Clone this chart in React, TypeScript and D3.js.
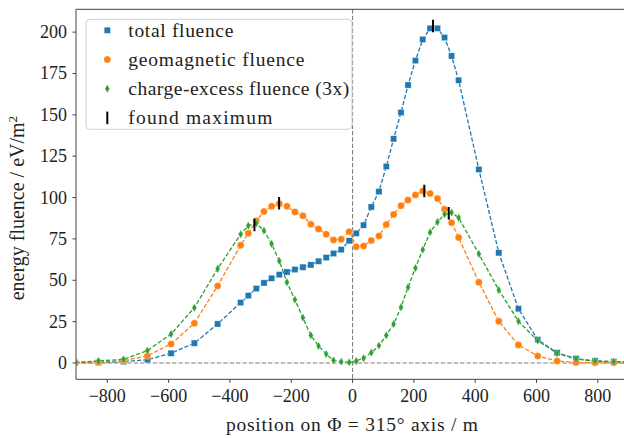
import React from "react";
import * as d3 from "d3";

// positions along the axis (m)
const positions = [
  -905, -829, -747, -669, -592, -516, -440,
  -365, -340, -314, -289, -264, -239, -214, -188, -162, -136, -111, -86, -62, -37, -11,
  12, 36, 61, 86, 110, 134, 158, 181, 205, 229, 253, 277, 300, 323, 346,
  412, 477, 541, 604, 667, 729, 791, 852, 913,
];

const totalFluence = [
  0.2, 0.3, 0.8, 2.0, 5.9, 12.0, 23.6,
  36.5, 40.7, 45.0, 48.4, 51.2, 53.4, 55.0, 56.5, 57.9, 59.3, 61.5, 63.7, 66.2, 68.5, 73.9,
  78.4, 83.3, 94.3, 103.6, 118.8, 135.5, 151.4, 168.0, 182.8, 195.6, 202.3, 202.3, 196.7, 185.6, 170.9,
  117.0, 66.6, 32.8, 14.1, 6.2, 2.6, 1.2, 0.8, 0.4,
];

const geomagneticFluence = [
  0.1, 0.4, 1.4, 4.3, 11.5, 24.0, 46.6,
  71.2, 78.4, 86.0, 91.5, 94.7, 96.3, 94.7, 91.3, 89.0, 83.8, 81.0, 77.8, 74.4, 74.8, 79.4,
  70.3, 70.7, 74.0, 76.8, 83.7, 89.8, 95.1, 98.5, 101.6, 104.0, 102.4, 99.4, 92.9, 84.8, 75.8,
  48.8, 25.2, 10.9, 4.2, 1.2, 0.3, 0.2, 0.1, 0.05,
];

const chargeExcessFluence = [
  0.5, 1.2, 2.2, 7.5, 17.5, 33.4, 57.0,
  77.8, 83.0, 84.4, 80.0, 72.0, 61.7, 48.8, 38.3, 27.4, 16.7, 10.3, 5.4, 1.6, 0.8, 0.4,
  1.2, 2.9, 6.2, 10.5, 16.7, 23.6, 33.7, 45.8, 57.4, 68.5, 79.0, 85.2, 89.9, 90.9, 87.8,
  65.9, 44.1, 25.2, 13.5, 5.9, 2.4, 1.2, 0.8, 0.5,
];

const maximaX = [262.5, -239.5, 234, -320, 313.7];
const maximaY = [203.7, 96.6, 104, 83.4, 90.5];

const xTicks = [-800, -600, -400, -200, 0, 200, 400, 600, 800];
const yTicks = [0, 25, 50, 75, 100, 125, 150, 175, 200];

const legendLabels = [
  "total fluence",
  "geomagnetic fluence",
  "charge-excess fluence (3x)",
  "found maximum",
];
const legendWidths = [105, 176, 221, 144];

const BLUE = "#1f77b4";
const ORANGE = "#ff7f0e";
const GREEN = "#2ca02c";
const FONT = "'Liberation Serif', 'Times New Roman', serif";

const W = 624;
const H = 438;
const left = 76;
const top = 9.3;
const bottom = 379.3;

const x = d3.scaleLinear().domain([-902, 902]).range([left, left + 1804 * 0.3066]);
const y = d3.scaleLinear().domain([-9.86, 213.8]).range([bottom, top]);

type Kind = "square" | "circle" | "diamond" | "vline";

function Marker({ kind, cx, cy, color }: { kind: Kind; cx: number; cy: number; color: string }) {
  const st = { stroke: "rgba(255,255,255,0.55)", strokeWidth: 0.6 };
  if (kind === "square") {
    const s = 6.2;
    return <rect x={cx - s / 2} y={cy - s / 2} width={s} height={s} fill={color} {...st} />;
  }
  if (kind === "circle") {
    return <circle cx={cx} cy={cy} r={3.5} fill={color} {...st} />;
  }
  if (kind === "diamond") {
    const w = 2.4, h = 4.2;
    return (
      <path
        d={`M${cx},${cy - h}L${cx + w},${cy}L${cx},${cy + h}L${cx - w},${cy}Z`}
        fill={color}
        {...st}
      />
    );
  }
  return <line x1={cx} x2={cx} y1={cy - 6.3} y2={cy + 6.3} stroke="#000" strokeWidth={2} />;
}

export default function App() {
  const series = [
    { values: totalFluence, color: BLUE, kind: "square" as Kind },
    { values: geomagneticFluence, color: ORANGE, kind: "circle" as Kind },
    { values: chargeExcessFluence, color: GREEN, kind: "diamond" as Kind },
  ];
  const line = d3
    .line<number>()
    .x((_, i) => x(positions[i]))
    .y((v) => y(v));

  const right = W + 5;
  const legendKinds: Kind[] = ["square", "circle", "diamond", "vline"];
  const legendColors = [BLUE, ORANGE, GREEN, "#000"];

  return (
    <svg
      width={W}
      height={H}
      style={{ position: "absolute", left: 0, top: 0, background: "#fff" }}
      fontFamily={FONT}
    >
      <defs>
        <clipPath id="plotclip">
          <rect x={left} y={top} width={right - left} height={bottom - top} />
        </clipPath>
      </defs>
      <rect x={0} y={0} width={W} height={H} fill="#fff" />

      {/* zero lines */}
      <line x1={left} x2={right} y1={y(0)} y2={y(0)} stroke="#7f7f7f" strokeWidth={1.1} strokeDasharray="4.4,2" />
      <line x1={x(0)} x2={x(0)} y1={top} y2={bottom} stroke="#7f7f7f" strokeWidth={1.1} strokeDasharray="4.4,2" />

      <g clipPath="url(#plotclip)">
        {series.map((s, si) => (
          <g key={si}>
            <path d={line(s.values) || ""} fill="none" stroke={s.color} strokeWidth={1.3} strokeDasharray="4.2,2" />
            {s.values.map((v, i) => (
              <Marker key={i} kind={s.kind} cx={x(positions[i])} cy={y(v)} color={s.color} />
            ))}
          </g>
        ))}
        {maximaX.map((mx, i) => (
          <Marker key={i} kind="vline" cx={x(mx)} cy={y(maximaY[i])} color="#000" />
        ))}
      </g>

      {/* spines */}
      <line x1={left} x2={right} y1={top} y2={top} stroke="#444" strokeWidth={1} />
      <line x1={left} x2={left} y1={top} y2={bottom} stroke="#444" strokeWidth={1} />
      <line x1={left} x2={right} y1={bottom} y2={bottom} stroke="#444" strokeWidth={1} />

      {/* x ticks */}
      {xTicks.map((t) => (
        <g key={t}>
          <line x1={x(t)} x2={x(t)} y1={bottom} y2={bottom + 3.5} stroke="#444" strokeWidth={1} />
          <text x={x(t)} y={401.5} fontSize={18} textAnchor="middle" fill="#222">
            {t < 0 ? "\u2212" + Math.abs(t) : String(t)}
          </text>
        </g>
      ))}
      {/* y ticks */}
      {yTicks.map((t) => (
        <g key={t}>
          <line x1={left - 3.5} x2={left} y1={y(t)} y2={y(t)} stroke="#444" strokeWidth={1} />
          <text x={67} y={y(t) + 6} fontSize={18} textAnchor="end" fill="#222">
            {String(t)}
          </text>
        </g>
      ))}

      <text x={352} y={431} fontSize={19.5} textAnchor="middle" fill="#222" textLength={252} lengthAdjust="spacing">
        position on Φ = 315° axis / m
      </text>
      <text
        transform="translate(24,208) rotate(-90)"
        fontSize={20}
        textAnchor="middle"
        fill="#222"
      >
        energy fluence / eV/m<tspan dy={-7} fontSize={13.5}>2</tspan>
      </text>

      {/* legend */}
      <rect x={86} y={19.3} width={266} height={110} rx={4} fill="#fff" fillOpacity={0.8} stroke="#d0d0d0" strokeWidth={1} />
      {legendLabels.map((lab, i) => {
        const cy = 30.3 + i * 29.2;
        return (
          <g key={lab}>
            <Marker kind={legendKinds[i]} cx={107.3} cy={cy} color={legendColors[i]} />
            <text x={128.3} y={cy + 6.3} fontSize={19.5} fill="#222" textLength={legendWidths[i]} lengthAdjust="spacing">
              {lab}
            </text>
          </g>
        );
      })}
    </svg>
  );
}
